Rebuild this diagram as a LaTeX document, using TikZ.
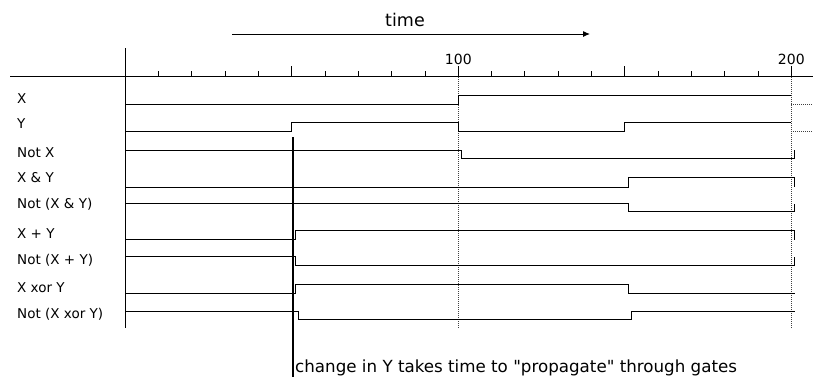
\documentclass[tikz,border=0pt]{standalone}
\usepackage{fontspec}
\setmainfont{DejaVu Sans}
\newfontfamily\plainfont{DejaVu Sans}
\usetikzlibrary{arrows.meta}
\begin{document}
\begin{tikzpicture}[x=1pt,y=-1pt,
  sig/.style={line width=1pt, line join=miter},
  gridln/.style={line width=0.9pt, dash pattern=on 1pt off 1pt, black!75},
  lab/.style={anchor=base west, inner sep=0pt, font=\fontsize{13.5}{16}\selectfont},
  num/.style={inner sep=0pt, font=\fontsize{14}{16}\selectfont},
  big/.style={inner sep=0pt, font=\plainfont\fontsize{16.7}{20}\selectfont},
  tick/.style={line width=0.9pt}]
\useasboundingbox (0,0) rectangle (813,381);
% title and arrow
\node[big, font=\plainfont\fontsize{17.5}{20}\selectfont] (time) at (405,20) {time};
\coordinate (ta) at (232,34);
\coordinate (tb) at (590,34);
\draw[line width=1pt, -{Latex[length=7pt,width=6pt]}] (ta) -- (tb);
% axes
\coordinate (axL) at (10,76.5);
\coordinate (axR) at (813,76.5);
\draw[line width=1.5pt] (axL) -- (axR);
\coordinate (vT) at (125.3,48);
\coordinate (vB) at (125.3,328);
\draw[line width=1.2pt] (vT) -- (vB);
% labels
\node[lab] (lX)   at (17,103)   {X};
\node[lab] (lY)   at (17,128.5) {Y};
\node[lab] (lNX)  at (17,157)   {Not X};
\node[lab] (lA)   at (17,182.5) {X \& Y};
\node[lab] (lNA)  at (17,208)   {Not (X \& Y)};
\node[lab] (lO)   at (17,238)   {X + Y};
\node[lab] (lNO)  at (17,264)   {Not (X + Y)};
\node[lab] (lXo)  at (17,292)   {X xor Y};
\node[lab] (lNXo) at (17,318)   {Not (X xor Y)};
\begin{scope}[shift={(125.3,0)}, x=3.33pt]
  % ticks
  \foreach \t in {10,20,30,40,60,70,80,90,110,120,130,140,160,170,180,190}
    \draw[tick] (\t,76.5) -- (\t,71.3);
  \foreach \t in {50,100,150,200}
    \draw[tick] (\t,76.5) -- (\t,65.7);
  \node[num] (n100) at (100,59.3) {100};
  \node[num] (n200) at (200,59.3) {200};
  % dotted grid lines
  \draw[gridln] (100,77) -- (100,328);
  \draw[gridln] (200,77) -- (200,328);
  \draw[gridln] (200,104) -- (206.6,104);
  \draw[gridln] (200,131) -- (206.6,131);
  % signals
  \draw[sig] (0,104) -- (100,104) -- (100,95) -- (200,95);
  \draw[sig] (0,131) -- (50,131) -- (50,122.5) -- (100,122.5) -- (100,131) -- (150,131) -- (150,122.5) -- (200,122.5);
  \draw[sig] (0,150) -- (101,150) -- (101,158.5) -- (201,158.5) -- (201,150);
  \draw[sig] (0,187) -- (151,187) -- (151,177.5) -- (201,177.5) -- (201,187);
  \draw[sig] (0,203.5) -- (151,203.5) -- (151,211.5) -- (201,211.5) -- (201,203.5);
  \draw[sig] (0,239.5) -- (51,239.5) -- (51,230.5) -- (201,230.5) -- (201,239.5);
  \draw[sig] (0,256.7) -- (51,256.7) -- (51,265.5) -- (201,265.5) -- (201,256.7);
  \draw[sig] (0,293.3) -- (51,293.3) -- (51,284.3) -- (151,284.3) -- (151,293.3) -- (201,293.3);
  \draw[sig] (0,311) -- (52,311) -- (52,319.5) -- (152,319.5) -- (152,311) -- (201,311);
\end{scope}
% propagation marker
\coordinate (mT) at (292.7,137);
\coordinate (mB) at (292.7,377);
\draw[line width=2pt] (mT) -- (mB);
\node[big, anchor=base west] (note) at (295,372) {change in Y takes time to "propagate" through gates};
\end{tikzpicture}
\end{document}
